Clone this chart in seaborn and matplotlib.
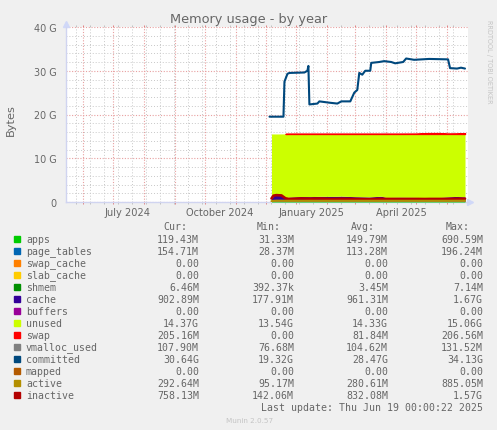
import matplotlib
matplotlib.use("Agg")
import matplotlib.pyplot as plt
import numpy as np
import pandas as pd
import seaborn as sns

# stacked series, all in G
dates = pd.to_datetime([
    "2024-12-07", "2024-12-09", "2024-12-12", "2024-12-17", "2024-12-21", "2024-12-24",
    "2025-01-05", "2025-01-15", "2025-01-25", "2025-02-05", "2025-02-15", "2025-03-01",
    "2025-03-15", "2025-03-27", "2025-04-01", "2025-04-15", "2025-05-01", "2025-05-10",
    "2025-05-15", "2025-05-25", "2025-06-01", "2025-06-10", "2025-06-19",
])
apps = [0.10, 0.22, 0.38, 0.30, 0.15, 0.14, 0.14, 0.16, 0.14, 0.15, 0.16, 0.15,
        0.14, 0.15, 0.13, 0.13, 0.14, 0.13, 0.13, 0.12, 0.13, 0.12, 0.12]
page_tables = [0.05, 0.12, 0.19, 0.17, 0.11, 0.11, 0.11, 0.12, 0.11, 0.12, 0.12, 0.11,
               0.11, 0.12, 0.11, 0.11, 0.11, 0.11, 0.11, 0.12, 0.13, 0.15, 0.15]
swap_cache = [0.0] * 23
slab_cache = [0.0] * 23
shmem = [0.002, 0.003, 0.006, 0.005, 0.003, 0.003, 0.003, 0.003, 0.003, 0.003, 0.003, 0.003,
         0.003, 0.003, 0.003, 0.003, 0.004, 0.004, 0.004, 0.005, 0.006, 0.006, 0.006]
cache = [0.60, 1.10, 1.30, 1.25, 0.60, 0.85, 1.00, 0.95, 1.05, 1.00, 1.05, 0.95,
         0.90, 1.05, 0.80, 0.85, 0.80, 0.70, 0.80, 0.80, 0.90, 1.00, 0.90]
buffers = [0.0] * 23
unused = [14.80, 14.11, 13.67, 13.83, 14.69, 14.45, 14.30, 14.32, 14.25, 14.28, 14.22, 14.34,
          14.40, 14.23, 14.51, 14.46, 14.50, 14.61, 14.51, 14.51, 14.39, 14.28, 14.37]
swap = [0.0, 0.0, 0.0, 0.0, 0.02, 0.03, 0.03, 0.03, 0.03, 0.03, 0.03, 0.03,
        0.03, 0.03, 0.03, 0.03, 0.04, 0.18, 0.20, 0.20, 0.06, 0.08, 0.20]

# lines drawn over the stack
vmalloc_used = [0.08, 0.09, 0.10, 0.10, 0.10, 0.10, 0.10, 0.10, 0.10, 0.10, 0.10, 0.10,
                0.10, 0.10, 0.10, 0.10, 0.11, 0.11, 0.11, 0.11, 0.11, 0.11, 0.11]
active = [0.20, 0.26, 0.30, 0.30, 0.28, 0.28, 0.28, 0.28, 0.28, 0.28, 0.28, 0.28,
          0.28, 0.28, 0.28, 0.28, 0.28, 0.28, 0.28, 0.28, 0.28, 0.29, 0.29]
inactive = [0.80, 1.45, 1.57, 1.50, 0.85, 0.70, 0.80, 0.75, 0.80, 0.70, 0.75, 0.70,
            0.65, 0.75, 0.70, 0.70, 0.70, 0.68, 0.70, 0.70, 0.72, 0.75, 0.76]
mapped = [0.0] * 23

committed_dates = pd.to_datetime([
    "2024-12-05", "2024-12-19", "2024-12-20", "2024-12-23", "2024-12-25", "2025-01-09",
    "2025-01-12", "2025-01-13", "2025-01-14", "2025-01-22", "2025-01-24", "2025-02-03",
    "2025-02-11", "2025-02-15", "2025-02-24", "2025-02-28", "2025-03-03", "2025-03-05",
    "2025-03-08", "2025-03-11", "2025-03-16", "2025-03-17", "2025-03-25", "2025-03-30",
    "2025-04-06", "2025-04-10", "2025-04-18", "2025-04-21", "2025-04-29", "2025-05-14",
    "2025-06-02", "2025-06-04", "2025-06-11", "2025-06-15", "2025-06-19",
])
committed = [19.5, 19.5, 27.5, 29.3, 29.5, 29.6, 30.0, 31.1, 22.3, 22.5, 23.0, 22.7,
             22.5, 23.0, 23.0, 25.0, 25.6, 29.5, 29.1, 30.0, 30.0, 31.8, 32.0, 32.2,
             32.0, 31.7, 32.0, 32.8, 32.5, 32.7, 32.6, 30.6, 30.5, 30.7, 30.5]

# legend table
legend_names = ["apps", "page_tables", "swap_cache", "slab_cache", "shmem", "cache", "buffers",
                "unused", "swap", "vmalloc_used", "committed", "mapped", "active", "inactive"]
legend_colors = ["#00CC00", "#0066B3", "#FF8000", "#FFCC00", "#008F00", "#330099", "#990099",
                 "#CCFF00", "#FF0000", "#808080", "#00487D", "#B35A00", "#B38F00", "#B30000"]
cur_vals = ["119.43M", "154.71M", "0.00", "0.00", "6.46M", "902.89M", "0.00",
            "14.37G", "205.16M", "107.90M", "30.64G", "0.00", "292.64M", "758.13M"]
min_vals = ["31.33M", "28.37M", "0.00", "0.00", "392.37k", "177.91M", "0.00",
            "13.54G", "0.00", "76.68M", "19.32G", "0.00", "95.17M", "142.06M"]
avg_vals = ["149.79M", "113.28M", "0.00", "0.00", "3.45M", "961.31M", "0.00",
            "14.33G", "81.84M", "104.62M", "28.47G", "0.00", "280.61M", "832.08M"]
max_vals = ["690.59M", "196.24M", "0.00", "0.00", "7.14M", "1.67G", "0.00",
            "15.06G", "206.56M", "131.52M", "34.13G", "0.00", "885.05M", "1.57G"]

month_ticks = pd.date_range("2024-06-01", "2025-06-01", freq="MS")
two_weeks = pd.date_range("2024-05-25", "2025-06-19", freq="14D")
month_labels = {"2024-07-16": "July 2024", "2024-10-16": "October 2024",
                "2025-01-16": "January 2025", "2025-04-16": "April 2025"}

W, H = 497, 431
BG = "#F0F0F0"
TXT = "#666666"
MONO = "DejaVu Sans Mono"

sns.set_style("white")
plt.rcParams["font.family"] = ["DejaVu Sans"]

fig = plt.figure(figsize=(W / 100, H / 100), dpi=100, facecolor=BG)
ax = fig.add_axes([66 / W, 1 - 203 / H, 402 / W, 175 / H], facecolor="white")


def px(x, y, s, **kw):
    # text placed in figure pixels, y from the top
    kw.setdefault("color", TXT)
    return fig.text(x / W, 1 - y / H, s, **kw)


stack = [apps, page_tables, swap_cache, slab_cache, shmem, cache, buffers, unused, swap]
base = np.zeros(len(dates))
for vals, col, name in zip(stack, legend_colors, legend_names):
    vals = np.array(vals)
    if vals.sum() > 0:
        lw = 1.0 if name == "swap" else 0
        ax.fill_between(dates, base, base + vals, where=vals > 0, color=col, lw=lw, zorder=3)
    base = base + vals

for vals, col, lw in [(vmalloc_used, "#808080", 1.0), (mapped, "#B35A00", 1.0),
                      (inactive, "#B30000", 1.9), (active, "#B38F00", 1.5)]:
    sns.lineplot(x=dates, y=vals, color=col, lw=lw, ax=ax, zorder=4)
sns.lineplot(x=committed_dates, y=committed, color="#00487D", lw=1.5, ax=ax, zorder=4)

ax.set_xlim(pd.Timestamp("2024-05-15"), pd.Timestamp("2025-06-22"))
ax.set_ylim(0, 40)
ax.set_xlabel("")
ax.set_ylabel("")

ax.set_xticks(month_ticks)
ax.set_xticks(two_weeks, minor=True)
ax.set_yticks([0, 10, 20, 30, 40])
ax.set_yticks(np.arange(0, 41, 2), minor=True)
ax.set_yticklabels(["0", "10 G", "20 G", "30 G", "40 G"])
ax.set_xticklabels([])
ax.tick_params(axis="y", which="major", labelsize=6.9, labelcolor=TXT, length=0, pad=6.5)
ax.tick_params(axis="y", which="minor", length=0)
ax.tick_params(axis="x", which="minor", top=True, bottom=True, length=1.5, width=0.6, color="#B8B8B8")
ax.tick_params(axis="x", which="major", top=True, bottom=True, length=1.5, width=0.7, color="#E08080")

ax.grid(True, which="minor", color="#C8C8C8", ls=(0, (1, 2)), lw=0.7, zorder=1)
ax.grid(True, which="major", color="#E8A0A0", ls=(0, (1, 1.5)), lw=0.8, zorder=2)
ax.set_axisbelow(True)

for side in ["top", "right"]:
    ax.spines[side].set_visible(False)
for side in ["left", "bottom"]:
    ax.spines[side].set_color("#D0D4F0")
    ax.spines[side].set_linewidth(1.0)
    ax.spines[side].set_zorder(2.5)

# little arrows at the axis ends
ax.plot([0], [1.02], marker="^", ms=4, color="#D0D8F8", transform=ax.transAxes, clip_on=False)
ax.plot([1.005], [0], marker=">", ms=4, color="#D0D8F8", transform=ax.transAxes, clip_on=False)

trans = ax.get_xaxis_transform()
for d, label in month_labels.items():
    ax.text(pd.Timestamp(d), -0.028, label, transform=trans, ha="center", va="top",
            fontsize=7.1, color=TXT)

px(249, 19, "Memory usage - by year", ha="center", va="center", fontsize=9.3)
px(11, 120, "Bytes", ha="center", va="center", rotation=90, fontsize=8.2)
px(489, 62, "RRDTOOL / TOBI OETIKER", ha="center", va="center", rotation=270,
   fontsize=4.7, color="#C4C4C4")

# legend rows
for head, x in zip(["Cur:", "Min:", "Avg:", "Max:"], [175, 269, 363, 458]):
    px(x, 227, head, ha="center", va="center", family=MONO, fontsize=7.1)
for i, name in enumerate(legend_names):
    y = 240 + i * 12
    fig.patches.append(plt.Rectangle((14 / W, 1 - (y + 3) / H), 6 / W, 6 / H, color=legend_colors[i],
                                     transform=fig.transFigure, figure=fig))
    px(26, y, name, ha="left", va="center", family=MONO, fontsize=7.1)
    for col, right in zip([cur_vals, min_vals, avg_vals, max_vals], [199, 294, 388, 483]):
        px(right, y, col[i], ha="right", va="center", family=MONO, fontsize=7.1)

px(483, 408, "Last update: Thu Jun 19 00:00:22 2025", ha="right", va="center", family=MONO, fontsize=7.1)
px(250, 421, "Munin 2.0.57", ha="center", va="center", fontsize=5.2, color="#C4C4C4")

fig.savefig("out.png", dpi=100, facecolor=BG)
